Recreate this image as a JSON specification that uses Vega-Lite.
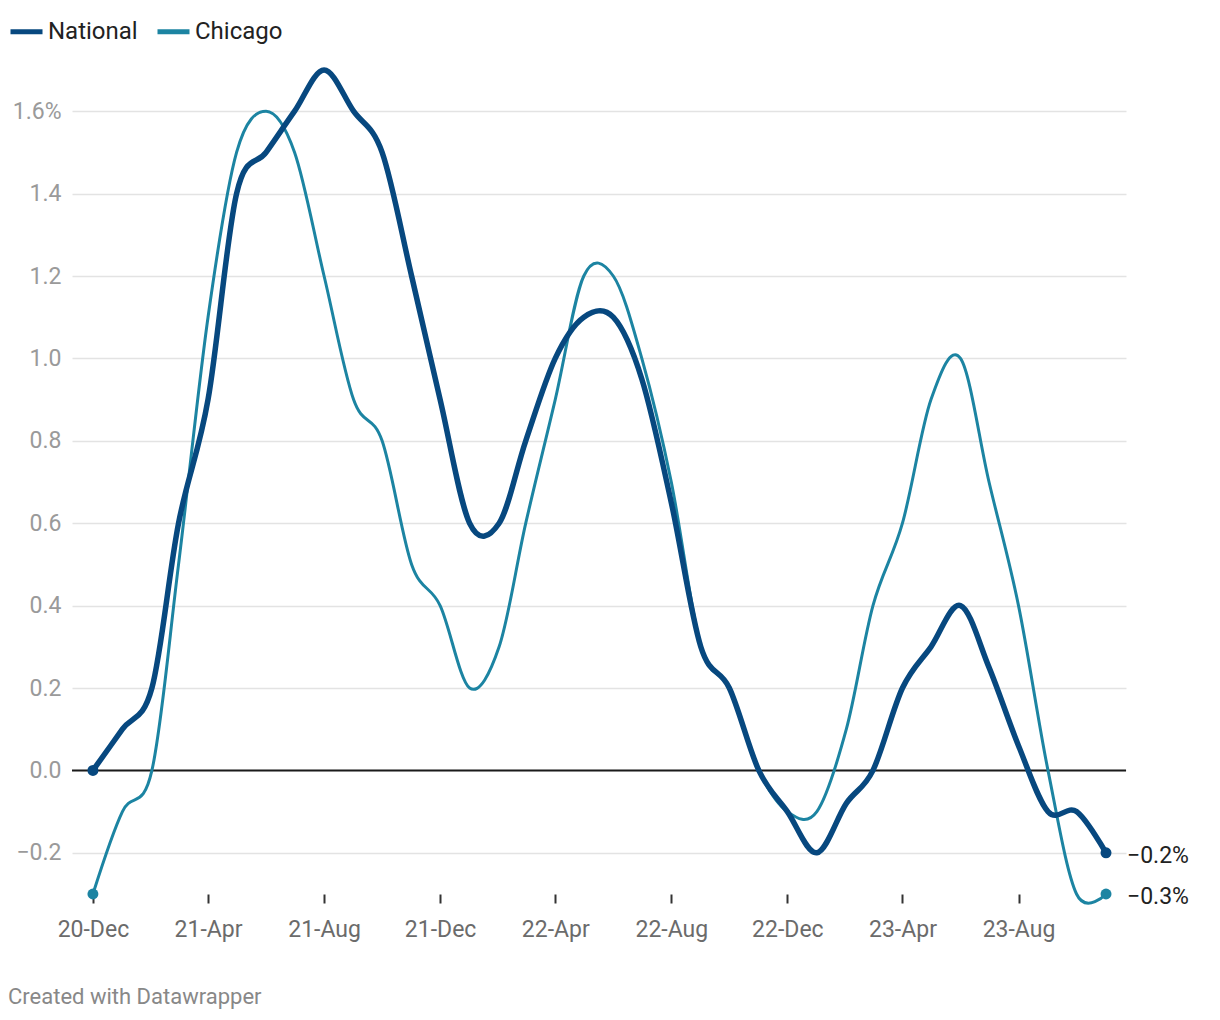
{
  "$schema": "https://vega.github.io/schema/vega-lite/v6.json",
  "width": 1054,
  "height": 824,
  "autosize": {"type": "none"},
  "padding": {"left": 72, "top": 70, "right": 94, "bottom": 126},
  "background": "white",
  "config": {
    "font": "Roboto",
    "view": {"stroke": null}
  },
  "title": {
    "text": "Created with Datawrapper",
    "orient": "bottom",
    "anchor": "start",
    "frame": "bounds",
    "fontSize": 22,
    "fontWeight": "normal",
    "color": "#888888",
    "font": "Roboto",
    "offset": 46
  },
  "data": {
    "values": [
      {"date": "2020-12-01", "series": "National", "value": 0.0},
      {"date": "2021-01-01", "series": "National", "value": 0.1},
      {"date": "2021-02-01", "series": "National", "value": 0.2},
      {"date": "2021-03-01", "series": "National", "value": 0.6},
      {"date": "2021-04-01", "series": "National", "value": 0.9},
      {"date": "2021-05-01", "series": "National", "value": 1.4},
      {"date": "2021-06-01", "series": "National", "value": 1.5},
      {"date": "2021-07-01", "series": "National", "value": 1.6},
      {"date": "2021-08-01", "series": "National", "value": 1.7},
      {"date": "2021-09-01", "series": "National", "value": 1.6},
      {"date": "2021-10-01", "series": "National", "value": 1.5},
      {"date": "2021-11-01", "series": "National", "value": 1.2},
      {"date": "2021-12-01", "series": "National", "value": 0.9},
      {"date": "2022-01-01", "series": "National", "value": 0.6},
      {"date": "2022-02-01", "series": "National", "value": 0.6},
      {"date": "2022-03-01", "series": "National", "value": 0.8},
      {"date": "2022-04-01", "series": "National", "value": 1.0},
      {"date": "2022-05-01", "series": "National", "value": 1.1},
      {"date": "2022-06-01", "series": "National", "value": 1.1},
      {"date": "2022-07-01", "series": "National", "value": 0.95},
      {"date": "2022-08-01", "series": "National", "value": 0.65},
      {"date": "2022-09-01", "series": "National", "value": 0.3},
      {"date": "2022-10-01", "series": "National", "value": 0.2},
      {"date": "2022-11-01", "series": "National", "value": 0.0},
      {"date": "2022-12-01", "series": "National", "value": -0.1},
      {"date": "2023-01-01", "series": "National", "value": -0.2},
      {"date": "2023-02-01", "series": "National", "value": -0.08},
      {"date": "2023-03-01", "series": "National", "value": 0.0},
      {"date": "2023-04-01", "series": "National", "value": 0.2},
      {"date": "2023-05-01", "series": "National", "value": 0.3},
      {"date": "2023-06-01", "series": "National", "value": 0.4},
      {"date": "2023-07-01", "series": "National", "value": 0.25},
      {"date": "2023-08-01", "series": "National", "value": 0.06},
      {"date": "2023-09-01", "series": "National", "value": -0.1},
      {"date": "2023-10-01", "series": "National", "value": -0.1},
      {"date": "2023-11-01", "series": "National", "value": -0.2},
      {"date": "2020-12-01", "series": "Chicago", "value": -0.3},
      {"date": "2021-01-01", "series": "Chicago", "value": -0.1},
      {"date": "2021-02-01", "series": "Chicago", "value": 0.0},
      {"date": "2021-03-01", "series": "Chicago", "value": 0.5},
      {"date": "2021-04-01", "series": "Chicago", "value": 1.1},
      {"date": "2021-05-01", "series": "Chicago", "value": 1.5},
      {"date": "2021-06-01", "series": "Chicago", "value": 1.6},
      {"date": "2021-07-01", "series": "Chicago", "value": 1.5},
      {"date": "2021-08-01", "series": "Chicago", "value": 1.2},
      {"date": "2021-09-01", "series": "Chicago", "value": 0.9},
      {"date": "2021-10-01", "series": "Chicago", "value": 0.8},
      {"date": "2021-11-01", "series": "Chicago", "value": 0.5},
      {"date": "2021-12-01", "series": "Chicago", "value": 0.4},
      {"date": "2022-01-01", "series": "Chicago", "value": 0.2},
      {"date": "2022-02-01", "series": "Chicago", "value": 0.3},
      {"date": "2022-03-01", "series": "Chicago", "value": 0.6},
      {"date": "2022-04-01", "series": "Chicago", "value": 0.9},
      {"date": "2022-05-01", "series": "Chicago", "value": 1.2},
      {"date": "2022-06-01", "series": "Chicago", "value": 1.2},
      {"date": "2022-07-01", "series": "Chicago", "value": 1.0},
      {"date": "2022-08-01", "series": "Chicago", "value": 0.7},
      {"date": "2022-09-01", "series": "Chicago", "value": 0.3},
      {"date": "2022-10-01", "series": "Chicago", "value": 0.2},
      {"date": "2022-11-01", "series": "Chicago", "value": 0.0},
      {"date": "2022-12-01", "series": "Chicago", "value": -0.1},
      {"date": "2023-01-01", "series": "Chicago", "value": -0.1},
      {"date": "2023-02-01", "series": "Chicago", "value": 0.1},
      {"date": "2023-03-01", "series": "Chicago", "value": 0.4},
      {"date": "2023-04-01", "series": "Chicago", "value": 0.6},
      {"date": "2023-05-01", "series": "Chicago", "value": 0.9},
      {"date": "2023-06-01", "series": "Chicago", "value": 1.0},
      {"date": "2023-07-01", "series": "Chicago", "value": 0.7},
      {"date": "2023-08-01", "series": "Chicago", "value": 0.4},
      {"date": "2023-09-01", "series": "Chicago", "value": 0.0},
      {"date": "2023-10-01", "series": "Chicago", "value": -0.3},
      {"date": "2023-11-01", "series": "Chicago", "value": -0.3}
    ],
    "format": {"parse": {"date": "utc:'%Y-%m-%d'"}}
  },
  "encoding": {
    "x": {
      "field": "date",
      "type": "temporal",
      "scale": {
        "type": "utc",
        "domain": [
          {"year": 2020, "month": 11, "date": 9, "utc": true},
          {"year": 2023, "month": 11, "date": 22, "utc": true}
        ]
      },
      "axis": {
        "title": null,
        "values": [
          {"year": 2020, "month": 12, "date": 1, "utc": true},
          {"year": 2021, "month": 4, "date": 1, "utc": true},
          {"year": 2021, "month": 8, "date": 1, "utc": true},
          {"year": 2021, "month": 12, "date": 1, "utc": true},
          {"year": 2022, "month": 4, "date": 1, "utc": true},
          {"year": 2022, "month": 8, "date": 1, "utc": true},
          {"year": 2022, "month": 12, "date": 1, "utc": true},
          {"year": 2023, "month": 4, "date": 1, "utc": true},
          {"year": 2023, "month": 8, "date": 1, "utc": true}
        ],
        "format": "%y-%b",
        "domain": false,
        "grid": false,
        "ticks": true,
        "tickSize": 9,
        "tickWidth": 2,
        "tickColor": "#333333",
        "labelColor": "#6b6b6b",
        "labelFontSize": 23,
        "labelFont": "Roboto",
        "labelPadding": 15,
        "labelFlush": false,
        "labelOverlap": false
      }
    },
    "y": {
      "field": "value",
      "type": "quantitative",
      "scale": {"domain": [-0.3, 1.7], "nice": false, "zero": false},
      "axis": {
        "title": null,
        "values": [-0.2, 0, 0.2, 0.4, 0.6, 0.8, 1.0, 1.2, 1.4, 1.6],
        "format": ".1f",
        "labelExpr": "datum.value > 1.55 ? datum.label + '%' : datum.label",
        "domain": false,
        "ticks": false,
        "grid": true,
        "gridColor": "#e3e3e3",
        "gridWidth": 1.5,
        "labelColor": "#9a9a9a",
        "labelFontSize": 23,
        "labelFont": "Roboto",
        "labelPadding": 11,
        "labelFlush": false
      }
    }
  },
  "layer": [
    {
      "data": {"values": [{"zero": 0}]},
      "mark": {"type": "rule", "color": "#1a1a1a", "strokeWidth": 2},
      "encoding": {
        "x": null,
        "y": {"field": "zero", "type": "quantitative"}
      }
    },
    {
      "transform": [{"filter": "datum.series === 'Chicago'"}],
      "mark": {"type": "line", "interpolate": "cardinal", "strokeWidth": 3, "strokeCap": "round", "strokeJoin": "round"},
      "encoding": {
        "color": {
          "field": "series",
          "type": "nominal",
          "scale": {"domain": ["National", "Chicago"], "range": ["#07487f", "#1c84a2"]},
          "legend": {
            "title": null,
            "orient": "none",
            "legendX": -64,
            "legendY": -57,
            "direction": "horizontal",
            "symbolType": "stroke",
            "symbolSize": 1024,
            "symbolStrokeWidth": 5,
            "labelFontSize": 24,
            "labelFont": "Roboto",
            "labelColor": "#222222",
            "labelOffset": 3,
            "columnPadding": 9
          }
        }
      }
    },
    {
      "transform": [{"filter": "datum.series === 'National'"}],
      "mark": {"type": "line", "interpolate": "cardinal", "strokeWidth": 5.5, "strokeCap": "round", "strokeJoin": "round"},
      "encoding": {
        "color": {"field": "series", "type": "nominal"}
      }
    },
    {
      "transform": [{"filter": "time(datum.date) === utc(2020, 11, 1) || time(datum.date) === utc(2023, 10, 1)"}],
      "mark": {"type": "circle", "size": 120, "opacity": 1},
      "encoding": {
        "color": {"field": "series", "type": "nominal"}
      }
    },
    {
      "transform": [
        {"filter": "time(datum.date) === utc(2023, 10, 1)"},
        {"calculate": "format(datum.value, '.1f') + '%'", "as": "label"}
      ],
      "mark": {"type": "text", "align": "left", "baseline": "middle", "dx": 21, "dy": 3, "fontSize": 23, "font": "Roboto", "color": "#222222"},
      "encoding": {
        "text": {"field": "label", "type": "nominal"}
      }
    }
  ]
}
